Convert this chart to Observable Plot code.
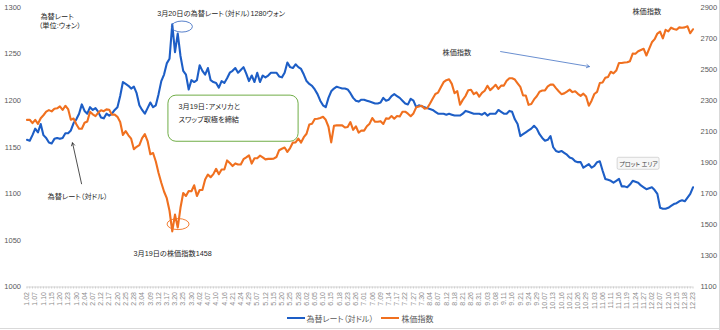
<!DOCTYPE html>
<html><head><meta charset="utf-8">
<script src="https://cdn.jsdelivr.net/npm/d3@7"></script>
<script src="https://cdn.jsdelivr.net/npm/@observablehq/plot@0.6"></script>
<style>
body{margin:0;background:#fff;font-family:"Liberation Sans","Noto Sans CJK JP",sans-serif;}
#wrap{position:relative;width:720px;height:330px;overflow:hidden;}
#wrap svg text{font-feature-settings:"palt";}
#legend{position:absolute;left:0;top:310px;width:720px;height:16px;display:flex;justify-content:center;align-items:center;font-size:8px;color:#595959;font-family:"Liberation Sans","Noto Sans CJK JP",sans-serif;font-feature-settings:"palt";}
#legend .sw{display:inline-block;width:18px;height:2px;margin-right:2px;}
#legend .item{display:flex;align-items:center;margin:0 4px;}
#edgeR{position:absolute;right:0;top:0;width:1px;height:330px;background:#d9d9d9;}
#edgeB{position:absolute;left:0;bottom:1px;width:720px;height:1px;background:#d9d9d9;}
</style></head>
<body><div id="wrap"><div id="chart"></div><div id="legend"></div><div id="edgeR"></div><div id="edgeB"></div></div>
<script>
// x-axis tick labels (every third trading day, 2020)
const dateLabels = ["1.02","1.07","1.10","1.15","1.20","1.23","1.30","2.04","2.07","2.12","2.17","2.20","2.25","2.28","3.04","3.09","3.12","3.17","3.20","3.25","3.30","4.02","4.07","4.10","4.16","4.21","4.24","4.29","5.07","5.12","5.15","5.20","5.25","5.28","6.02","6.05","6.10","6.15","6.18","6.23","6.26","7.01","7.06","7.09","7.14","7.17","7.22","7.27","7.30","8.04","8.07","8.12","8.18","8.21","8.26","8.31","9.03","9.08","9.11","9.16","9.21","9.24","9.29","10.07","10.13","10.16","10.21","10.26","10.29","11.03","11.06","11.11","11.16","11.19","11.24","11.27","12.02","12.07","12.10","12.15","12.18","12.23"];

// 為替レート（対ドル）, one value per trading day
const fxRate = [
1158,1157,1163,1170,1166,1175,1163,1160,1155,1154,1159,1160,1159,1160,1165,1165,1168,1176,1180,1186,
1196,1189,1186,1193,1190,1192,1188,1182,1181,1186,1184,1186,1190,1193,1205,1220,1218,1216,1213,1215,
1208,1195,1190,1186,1192,1198,1193,1195,1207,1221,1228,1240,1245,1282,1252,1272,1248,1232,1228,1212,1222,1220,
1222,1238,1232,1228,1235,1222,1220,1219,1214,1221,1219,1224,1230,1232,1235,1230,1233,1236,1229,1221,
1227,1220,1230,1220,1227,1225,1227,1230,1230,1230,1226,1225,1230,1241,1236,1235,1239,1236,1234,
1228,1221,1218,1216,1212,1207,1200,1195,1193,1203,1210,1213,1215,1214,1213,1213,1212,1208,1203,1200,1199,1201,
1201,1200,1199,1198,1197,1197,1198,1203,1200,1201,1205,1207,1205,1203,1200,1197,1196,1202,1200,1193,1195,1194,1193,
1192,1191,1190,1188,1186,1186,1186,1185,1186,1185,1184,1184,1184,1186,1189,1188,1187,1186,1186,1186,
1185,1187,1184,1186,1186,1186,1190,1188,1186,1186,1189,1188,1180,1175,1162,1164,1166,1168,1170,1173,1170,
1164,1160,1157,1158,1162,1150,1146,1145,1146,1144,1142,1139,1138,1135,1134,1134,1128,1130,1132,
1128,1130,1134,1135,1125,1116,1115,1114,1112,1114,1116,1108,1108,1107,1110,1114,1113,1112,1109,1107,1105,
1106,1107,1104,1100,1085,1084,1084,1085,1087,1089,1090,1092,1093,1092,1096,1100,1107];

// 株価指数, one value per trading day
const stockIndex = [
2176,2177,2155,2176,2151,2187,2206,2229,2239,2231,2248,2251,2263,2240,2267,2246,2177,2185,2148,2119,
2119,2158,2166,2228,2212,2201,2223,2238,2232,2244,2242,2209,2210,2196,2163,2079,2104,2077,2055,1987,
2003,2014,2059,2085,2040,1955,1963,1908,1834,1771,1715,1672,1591,1458,1566,1483,1610,1705,1686,1718,1717,1755,
1686,1725,1725,1792,1824,1807,1827,1861,1826,1857,1857,1915,1898,1879,1896,1889,1889,1923,1935,1948,
1895,1929,1929,1946,1935,1922,1925,1925,1927,1937,1981,1990,1998,1970,1995,2030,2031,2055,2030,
2065,2087,2147,2151,2182,2184,2189,2196,2177,2132,2031,2138,2141,2141,2141,2127,2131,2162,2112,2135,2094,2108,
2107,2135,2152,2188,2164,2164,2168,2150,2186,2184,2201,2184,2201,2198,2229,2229,2216,2200,2218,2257,2263,2267,2249,
2251,2280,2312,2343,2352,2386,2419,2432,2438,2408,2348,2361,2274,2305,2330,2367,2370,2342,2354,2326,
2350,2364,2396,2368,2384,2402,2376,2397,2397,2428,2444,2444,2436,2412,2389,2333,2333,2273,2279,2308,2328,
2358,2365,2366,2392,2403,2404,2381,2361,2342,2347,2358,2371,2355,2361,2344,2331,2345,2327,2267,
2300,2343,2357,2414,2417,2447,2453,2486,2476,2494,2543,2543,2546,2547,2554,2603,2602,2618,2626,2634,2591,
2634,2676,2696,2732,2745,2701,2756,2746,2770,2762,2757,2772,2770,2772,2779,2734,2760];

const leftTicks = [1000,1050,1100,1150,1200,1250,1300];
const rightTicks = [1100,1300,1500,1700,1900,2100,2300,2500,2700,2900];
const seriesNames = ["為替レート（対ドル）","株価指数"];
const seriesColors = ["#1d5ec6","#f0701f"];

// annotations, anchored in data units: trading-day index and left-axis value
const notes = [
  {text:"為替レート", i:4.9, v:1290.5, w:"normal"},
  {text:"（単位:ウォン）", i:4.3, v:1280, w:"normal"},
  {text:"3月20日の為替レート（対ドル）1280ウォン", i:47.5, v:1293, w:"normal"},
  {text:"株価指数", i:220.9, v:1295, w:"bold"},
  {text:"株価指数", i:151.6, v:1252, w:"bold"},
  {text:"為替レート（対ドル）", i:7.5, v:1097, w:"bold"},
  {text:"3月19日の株価指数1458", i:38.9, v:1036, w:"bold"},
  {text:"3月19日：アメリカと", i:55.3, v:1193.5, w:"bold"},
  {text:"スワップ取極を締結", i:55.3, v:1179.5, w:"bold"}
];
const arrows = [
  {i1:172.8, v1:1252.7, i2:205.2, v2:1236.6, c:"#4472c4"},
  {i1:19.9, v1:1110.8, i2:16.6, v2:1154.8, c:"#222"}
];
const noteBox = [{i1:51.6, i2:99.1, v1:1155.9, v2:1205.4}];
const tipBox = [{i1:215.5, i2:230.8, v1:1125.8, v2:1138.7, text:"プロット エリア"}];
const ellipses = [
  {i:56.7, v:1279, rx:10.5, ry:5.5, c:"#4472c4"},
  {i:55.3, v:1067, rx:11, ry:5.5, c:"#f0701f"}
];

const n = fxRate.length;
const idx = d3.range(n);
const sMin = 1100, sMax = 2900, fMin = 1000, fMax = 1300;
const toLeft = s => fMin + (s - sMin) * (fMax - fMin) / (sMax - sMin);
const fromLeft = v => sMin + (v - fMin) * (sMax - sMin) / (fMax - fMin);

const plot = Plot.plot({
  width: 720, height: 308,
  marginTop: 7, marginBottom: 21.5, marginLeft: 26.5, marginRight: 27.5,
  x: {domain: [0, n - 1]},
  y: {domain: [fMin, fMax]},
  style: {fontFamily: '"Liberation Sans","Noto Sans CJK JP",sans-serif', background: "white", overflow: "visible"},
  marks: [
    Plot.ruleY([fMin], {stroke: "#d9d9d9"}),
    Plot.axisX({ticks: idx, tickSize: 2, tickPadding: 3, tickRotate: -90, stroke: "#cfcfcf",
      fill: "#8c8c8c", fontSize: 7, label: null,
      tickFormat: i => (i % 3 === 0 ? dateLabels[i / 3] : "")}),
    Plot.axisY({anchor: "left", ticks: leftTicks, tickSize: 0, tickPadding: 6, fontSize: 7.5,
      fill: "#595959", label: null, tickFormat: v => String(v)}),
    Plot.axisY({anchor: "right", ticks: rightTicks.map(toLeft), tickSize: 0, tickPadding: 7.5,
      fontSize: 7.5, fill: "#595959", label: null, tickFormat: v => String(Math.round(fromLeft(v)))}),
    Plot.rect(noteBox, {x1: "i1", x2: "i2", y1: "v1", y2: "v2", rx: 8, fill: "white", stroke: "#70ad47", strokeWidth: 1}),
    Plot.line(idx, {x: i => i, y: i => fxRate[i], stroke: seriesColors[0], strokeWidth: 2.1}),
    Plot.line(idx, {x: i => i, y: i => toLeft(stockIndex[i]), stroke: seriesColors[1], strokeWidth: 2.1}),
    Plot.arrow(arrows, {x1: "i1", y1: "v1", x2: "i2", y2: "v2", stroke: "c", strokeWidth: 0.8, headLength: 6}),
    Plot.text(notes, {x: "i", y: "v", text: "text", textAnchor: "start", fontSize: 7.2, fontWeight: "w", fill: "#262626"}),
    Plot.rect(tipBox, {x1: "i1", x2: "i2", y1: "v1", y2: "v2", fill: "#f7f7f7", stroke: "#bdbdbd", strokeWidth: 0.6, rx: 1.5}),
    Plot.text(tipBox, {x: d => (d.i1 + d.i2) / 2, y: d => (d.v1 + d.v2) / 2, text: "text", fontSize: 6, fill: "#444"})
  ]
});
document.getElementById("chart").appendChild(plot);

// ellipses around the highlighted points, positioned via the plot's own scales
function scaleFn(name) {
  const s = plot.scale(name);
  if (s && typeof s.apply === "function") return s.apply;
  return d3.scaleLinear().domain(s.domain).range(s.range);
}
const sx = scaleFn("x"), sy = scaleFn("y");
const svg = d3.select(plot);
svg.append("g").selectAll("ellipse").data(ellipses).join("ellipse")
  .attr("cx", d => sx(d.i)).attr("cy", d => sy(d.v))
  .attr("rx", d => d.rx).attr("ry", d => d.ry)
  .attr("fill", "none").attr("stroke", d => d.c).attr("stroke-width", 0.9);

// legend
const lg = d3.select("#legend");
seriesNames.forEach((name, k) => {
  const it = lg.append("div").attr("class", "item");
  it.append("span").attr("class", "sw").style("background", seriesColors[k]);
  it.append("span").text(name);
});
</script></body></html>
